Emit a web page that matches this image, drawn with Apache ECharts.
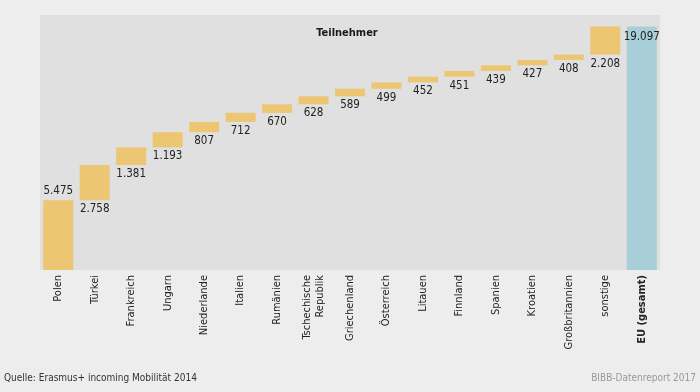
<!DOCTYPE html>
<html><head><meta charset="utf-8">
<script src="https://cdn.jsdelivr.net/npm/echarts@6/dist/echarts.min.js"></script>
<style>html,body{margin:0;padding:0;background:#ededed;}#c{width:700px;height:392px;}</style>
</head><body><div id="c"></div>
<script>
const categories = ['Polen','Türkei','Frankreich','Ungarn','Niederlande','Italien','Rumänien','Tschechische\nRepublik','Griechenland','Österreich','Litauen','Finnland','Spanien','Kroatien','Großbritannien','sonstige','EU (gesamt)'];
const values = [5475,2758,1381,1193,807,712,670,628,589,499,452,451,439,427,408,2208,19097];
const yMax = 20000;
const FONT = "'Liberation Sans Narrow','DejaVu Sans Condensed','Liberation Sans',sans-serif";
const fmt = v => v.toLocaleString('de-DE');

const n = values.length;
const bases = [];
let acc = 0;
for (let i = 0; i < n; i++) {
  if (i === n - 1) { bases.push(0); }
  else { bases.push(acc); acc += values[i]; }
}
const barData = values.map((v, i) => {
  const isTotal = i === n - 1;
  return {
    value: v,
    itemStyle: { color: isTotal ? '#a8ced8' : '#ecc672' },
    label: {
      position: i === 0 ? 'top' : (isTotal ? 'insideTop' : 'bottom'),
      distance: isTotal ? 5 : 3
    }
  };
});

const chart = echarts.init(document.getElementById('c'));
chart.setOption({
  backgroundColor: '#ededed',
  animation: false,
  title: {
    text: 'Teilnehmer', left: 342, top: 23, textAlign: 'center',
    textStyle: { fontFamily: FONT, fontSize: 11, fontWeight: 'bold', color: '#1a1a1a' }
  },
  graphic: [
    { type: 'text', left: 4, top: 373, style: { text: 'Quelle: Erasmus+ incoming Mobilität 2014', font: "10px " + FONT, fill: '#333' } },
    { type: 'text', right: 4, top: 373, style: { text: 'BIBB-Datenreport 2017', font: "10px " + FONT, fill: '#999' } }
  ],
  grid: { left: 40, right: 40, top: 15, bottom: 122, show: true, backgroundColor: '#e0e0e0', borderWidth: 0 },
  xAxis: {
    type: 'category', data: categories,
    axisLine: { show: false }, axisTick: { show: false },
    axisLabel: {
      rotate: 90, interval: 0, margin: 5, fontFamily: FONT, fontSize: 11, color: '#222', lineHeight: 13,
      formatter: (v) => v === 'EU (gesamt)' ? '{b|' + v + '}' : v,
      rich: { b: { fontWeight: 'bold', fontFamily: FONT, fontSize: 11, color: '#222' } }
    }
  },
  yAxis: { type: 'value', min: 0, max: yMax, show: false, splitLine: { show: false } },
  series: [
    { type: 'bar', stack: 'w', data: bases, itemStyle: { color: 'transparent' }, barWidth: 30, silent: true },
    {
      type: 'bar', stack: 'w', data: barData, barWidth: 30,
      label: { show: true, fontFamily: FONT, fontSize: 11.5, color: '#222', formatter: p => fmt(p.value) }
    }
  ]
});
</script></body></html>
